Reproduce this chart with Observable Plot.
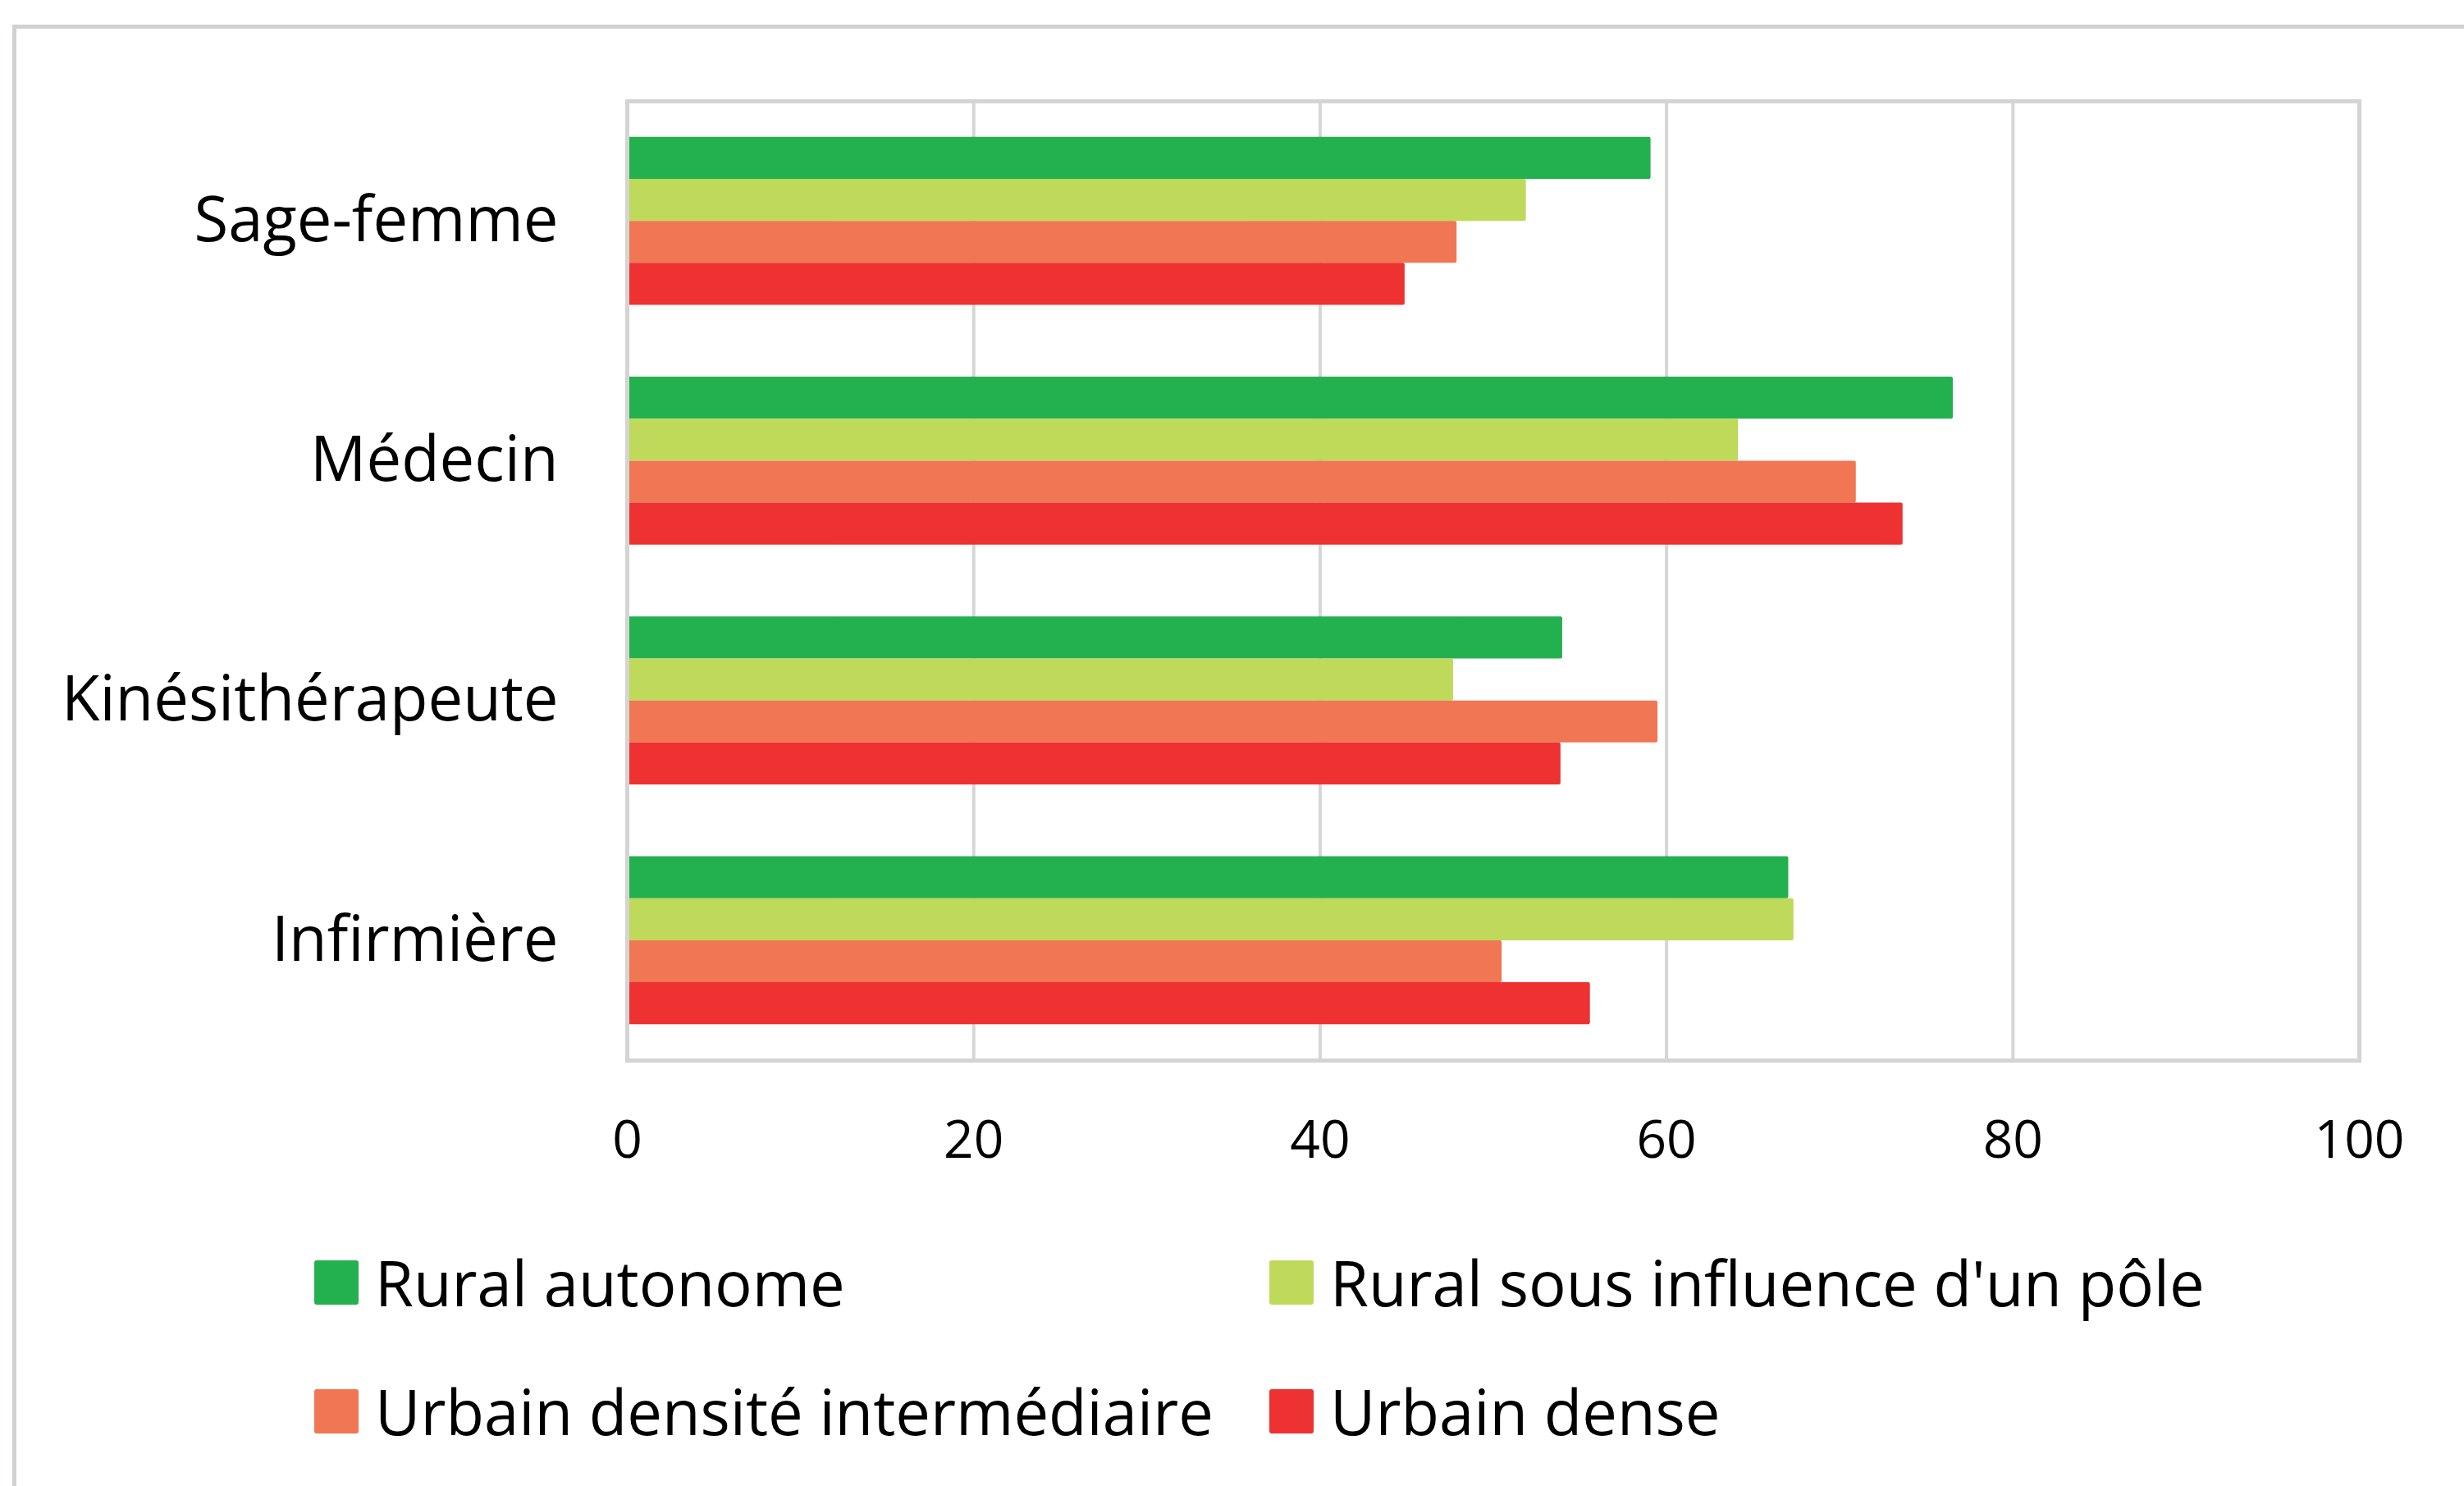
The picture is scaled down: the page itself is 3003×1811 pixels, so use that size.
<!DOCTYPE html>
<html>
<head>
<meta charset="utf-8">
<script src="https://cdn.jsdelivr.net/npm/d3@7"></script>
<script src="https://cdn.jsdelivr.net/npm/@observablehq/plot@0.6"></script>
<style>
  html, body { margin: 0; padding: 0; background: #fff; }
  body { width: 3003px; height: 1811px; position: relative; overflow: hidden; font-family: "Open Sans", sans-serif; }
  #outer { position: absolute; left: 15px; top: 30px; right: -20px; bottom: -20px; border-top: 5px solid #d0d2d2; border-left: 5px solid #d0d2d2; }
  #chart { position: absolute; left: 0; top: 0; }
  #legend { position: absolute; left: 383px; top: 1513px; display: grid; grid-template-columns: 1164px 1164px; row-gap: 57px; }
  .item { display: flex; align-items: center; height: 100px; font-size: 76px; line-height: 1; color: #000; white-space: nowrap; }
  .sw { width: 54px; height: 54px; border-radius: 3px; margin-right: 20px; flex: none; }
</style>
</head>
<body>
<div id="outer"></div>
<div id="chart"></div>
<div id="legend"></div>
<script>
const categories = ["Sage-femme", "Médecin", "Kinésithérapeute", "Infirmière"];
const series = ["Rural autonome", "Rural sous influence d'un pôle", "Urbain densité intermédiaire", "Urbain dense"];
const colors = ["#23b04e", "#bfd95b", "#f07654", "#ee3131"];
const ruralAutonome = [59.1, 76.55, 54.0, 67.05];
const ruralInfluence = [51.9, 64.15, 47.7, 67.35];
const urbainIntermediaire = [47.9, 70.95, 59.5, 50.5];
const urbainDense = [44.9, 73.65, 53.9, 55.6];
const xTicks = [0, 20, 40, 60, 80, 100];
const gridTicks = [20, 40, 60, 80];

const values = [ruralAutonome, ruralInfluence, urbainIntermediaire, urbainDense];
const groupWidth = 0.7;
const barW = groupWidth / series.length;
const rows = [];
categories.forEach((c, i) => {
  series.forEach((s, j) => {
    const y1 = i - groupWidth / 2 + j * barW;
    rows.push({cat: c, series: s, value: values[j][i], y1, y2: y1 + barW});
  });
});

const chart = Plot.plot({
  width: 3003,
  height: 1460,
  marginLeft: 764,
  marginRight: 128,
  marginTop: 123,
  marginBottom: 168,
  style: {fontFamily: "Open Sans, sans-serif", color: "#000", background: "transparent"},
  x: {domain: [0, 100], ticks: xTicks, tickSize: 0, tickPadding: 73, label: null},
  y: {domain: [-0.5, categories.length - 0.5], reverse: true, ticks: categories.map((_, i) => i), tickFormat: i => categories[i], tickSize: 0, tickPadding: 84, label: null},
  color: {domain: series, range: colors},
  marks: [
    Plot.ruleX(gridTicks, {stroke: "#d6d6d6", strokeWidth: 4, strokeOpacity: 1}),
    Plot.rect(rows, {x1: 0, x2: "value", y1: "y1", y2: "y2", fill: "series", rx: 2}),
    Plot.frame({stroke: "#d4d4d4", strokeWidth: 5})
  ]
});
document.getElementById("chart").appendChild(chart);
chart.querySelectorAll("g[aria-label='x-axis tick label'] text, g[aria-label='x-axis'] text").forEach(t => t.setAttribute("font-size", "64"));
chart.querySelectorAll("g[aria-label='y-axis tick label'] text, g[aria-label='y-axis'] text").forEach(t => t.setAttribute("font-size", "76"));
chart.querySelectorAll("g[aria-label='x-axis tick label'], g[aria-label='y-axis tick label']").forEach(g => g.setAttribute("font-size", g.getAttribute("aria-label").startsWith("x") ? "64" : "76"));

const legend = document.getElementById("legend");
series.forEach((s, j) => {
  const it = document.createElement("div");
  it.className = "item";
  const sw = document.createElement("span");
  sw.className = "sw";
  sw.style.background = colors[j];
  const tx = document.createElement("span");
  tx.textContent = s;
  it.appendChild(sw);
  it.appendChild(tx);
  legend.appendChild(it);
});
</script>
</body>
</html>
